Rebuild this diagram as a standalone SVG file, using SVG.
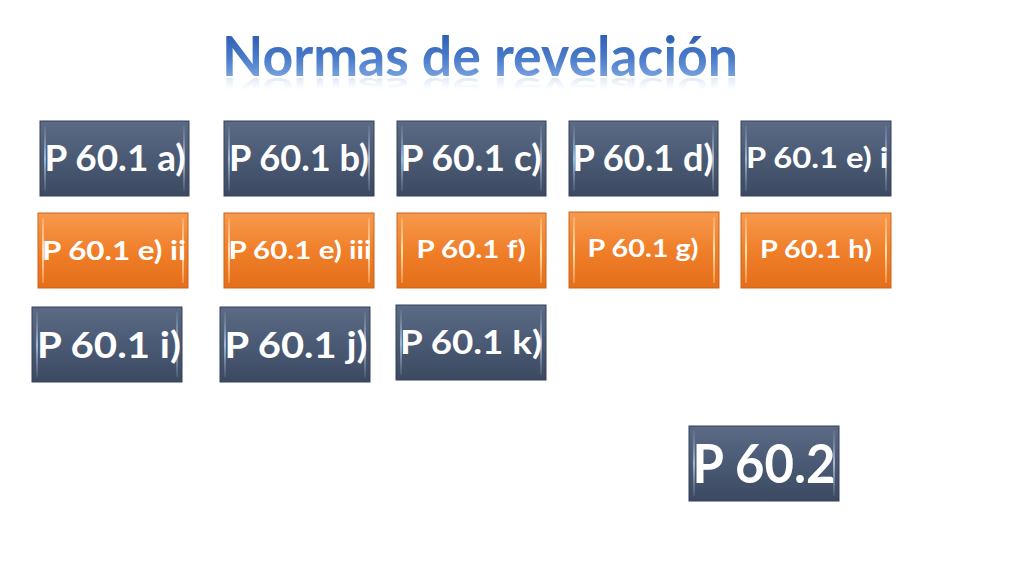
<svg xmlns="http://www.w3.org/2000/svg" width="1024" height="576" viewBox="0 0 1024 576">
<defs>
<linearGradient id="gBlue" x1="0" y1="0" x2="0" y2="1">
<stop offset="0" stop-color="#5b6a85"/><stop offset="0.5" stop-color="#4b5a74"/><stop offset="1" stop-color="#3b4961"/>
</linearGradient>
<linearGradient id="gOr" x1="0" y1="0" x2="0" y2="1">
<stop offset="0" stop-color="#f79a4e"/><stop offset="0.5" stop-color="#f07f2a"/><stop offset="1" stop-color="#e46e1a"/>
</linearGradient>
<linearGradient id="gEdgeB" x1="0" y1="0" x2="0" y2="1">
<stop offset="0" stop-color="#8899b5" stop-opacity="0.2"/><stop offset="0.5" stop-color="#a9b8d0"/><stop offset="1" stop-color="#8899b5" stop-opacity="0.2"/>
</linearGradient>
<linearGradient id="gEdgeO" x1="0" y1="0" x2="0" y2="1">
<stop offset="0" stop-color="#ffd9a8" stop-opacity="0.3"/><stop offset="0.5" stop-color="#ffe2b0"/><stop offset="1" stop-color="#ffd9a8" stop-opacity="0.3"/>
</linearGradient>
<linearGradient id="gTitle" x1="0" y1="0" x2="0" y2="1">
<stop offset="0" stop-color="#1f4fa6"/><stop offset="0.55" stop-color="#4a7ccb"/><stop offset="1" stop-color="#93b8ea"/>
</linearGradient>
<linearGradient id="gRefl" x1="0" y1="0" x2="0" y2="1">
<stop offset="0" stop-color="#d6e3f6" stop-opacity="0"/><stop offset="0.45" stop-color="#d6e3f6" stop-opacity="0"/><stop offset="1" stop-color="#9dbbe9" stop-opacity="0.6"/>
</linearGradient>
</defs>
<style>
.b{fill:url(#gBlue);stroke:#34405a;stroke-width:1}
.o{fill:url(#gOr);stroke:#c8651e;stroke-width:1}
.eb{fill:url(#gEdgeB)}
.eo{fill:url(#gEdgeO)}
.t{font-family:Lato,"Open Sans","Liberation Sans",sans-serif;font-weight:bold;fill:#ffffff;text-anchor:middle}
.title{font-family:Lato,"Open Sans","Liberation Sans",sans-serif;font-weight:bold;text-anchor:middle}
</style>
<rect width="1024" height="576" fill="#ffffff"/>
<g id="title">
<text class="title" x="480" y="76" font-size="55" fill="url(#gTitle)" textLength="516" lengthAdjust="spacingAndGlyphs">Normas de revelación</text>
<text class="title" x="480" y="-150" font-size="55" fill="url(#gRefl)" transform="scale(1,-0.52)" textLength="516" lengthAdjust="spacingAndGlyphs">Normas de revelación</text>
</g>
<g id="n_a"><rect class="b" x="40" y="121" width="149" height="75"/><rect class="eb" x="44" y="126" width="2" height="65"/><rect class="eb" x="183" y="126" width="2" height="65"/><text class="t" x="115" y="171" font-size="36" textLength="141" lengthAdjust="spacingAndGlyphs">P 60.1 a)</text></g>
<g id="n_b"><rect class="b" x="224" y="121" width="150" height="75"/><rect class="eb" x="228" y="126" width="2" height="65"/><rect class="eb" x="368" y="126" width="2" height="65"/><text class="t" x="299" y="171" font-size="36" textLength="140" lengthAdjust="spacingAndGlyphs">P 60.1 b)</text></g>
<g id="n_c"><rect class="b" x="397" y="121" width="149" height="75"/><rect class="eb" x="401" y="126" width="2" height="65"/><rect class="eb" x="540" y="126" width="2" height="65"/><text class="t" x="471" y="171" font-size="36" textLength="141" lengthAdjust="spacingAndGlyphs">P 60.1 c)</text></g>
<g id="n_d"><rect class="b" x="569" y="121" width="149" height="75"/><rect class="eb" x="573" y="126" width="2" height="65"/><rect class="eb" x="712" y="126" width="2" height="65"/><text class="t" x="643" y="171" font-size="36" textLength="141" lengthAdjust="spacingAndGlyphs">P 60.1 d)</text></g>
<g id="n_ei"><rect class="b" x="741" y="121" width="150" height="75"/><rect class="eb" x="745" y="126" width="2" height="65"/><rect class="eb" x="885" y="126" width="2" height="65"/><text class="t" x="817" y="168" font-size="28" textLength="142" lengthAdjust="spacingAndGlyphs">P 60.1 e) i</text></g>
<g id="n_eii"><rect class="o" x="38" y="213" width="150" height="75"/><rect class="eo" x="42" y="218" width="2" height="65"/><rect class="eo" x="182" y="218" width="2" height="65"/><text class="t" x="114" y="260" font-size="27" textLength="144" lengthAdjust="spacingAndGlyphs">P 60.1 e) ii</text></g>
<g id="n_eiii"><rect class="o" x="224" y="213" width="150" height="75"/><rect class="eo" x="228" y="218" width="2" height="65"/><rect class="eo" x="368" y="218" width="2" height="65"/><text class="t" x="300" y="259" font-size="25" textLength="143" lengthAdjust="spacingAndGlyphs">P 60.1 e) iii</text></g>
<g id="n_f"><rect class="o" x="397" y="213" width="149" height="75"/><rect class="eo" x="401" y="218" width="2" height="65"/><rect class="eo" x="540" y="218" width="2" height="65"/><text class="t" x="471" y="258" font-size="24" textLength="109" lengthAdjust="spacingAndGlyphs">P 60.1 f)</text></g>
<g id="n_g"><rect class="o" x="569" y="212" width="150" height="76"/><rect class="eo" x="573" y="217" width="2" height="66"/><rect class="eo" x="713" y="217" width="2" height="66"/><text class="t" x="643" y="257" font-size="24" textLength="111" lengthAdjust="spacingAndGlyphs">P 60.1 g)</text></g>
<g id="n_h"><rect class="o" x="741" y="213" width="150" height="75"/><rect class="eo" x="745" y="218" width="2" height="65"/><rect class="eo" x="885" y="218" width="2" height="65"/><text class="t" x="816" y="258" font-size="24" textLength="112" lengthAdjust="spacingAndGlyphs">P 60.1 h)</text></g>
<g id="n_i"><rect class="b" x="32" y="307" width="150" height="75"/><rect class="eb" x="36" y="312" width="2" height="65"/><rect class="eb" x="176" y="312" width="2" height="65"/><text class="t" x="109" y="358" font-size="36" textLength="144" lengthAdjust="spacingAndGlyphs">P 60.1 i)</text></g>
<g id="n_j"><rect class="b" x="220" y="307" width="150" height="75"/><rect class="eb" x="224" y="312" width="2" height="65"/><rect class="eb" x="364" y="312" width="2" height="65"/><text class="t" x="296" y="358" font-size="36" textLength="143" lengthAdjust="spacingAndGlyphs">P 60.1 j)</text></g>
<g id="n_k"><rect class="b" x="396" y="305" width="150" height="75"/><rect class="eb" x="400" y="310" width="2" height="65"/><rect class="eb" x="540" y="310" width="2" height="65"/><text class="t" x="471" y="354" font-size="32" textLength="142" lengthAdjust="spacingAndGlyphs">P 60.1 k)</text></g>
<g id="n_602"><rect class="b" x="689" y="426" width="150" height="75"/><rect class="eb" x="693" y="431" width="2" height="65"/><rect class="eb" x="833" y="431" width="2" height="65"/><text class="t" x="764" y="483" font-size="54" textLength="143" lengthAdjust="spacingAndGlyphs">P 60.2</text></g>
<g id="connectors"/>
</svg>
